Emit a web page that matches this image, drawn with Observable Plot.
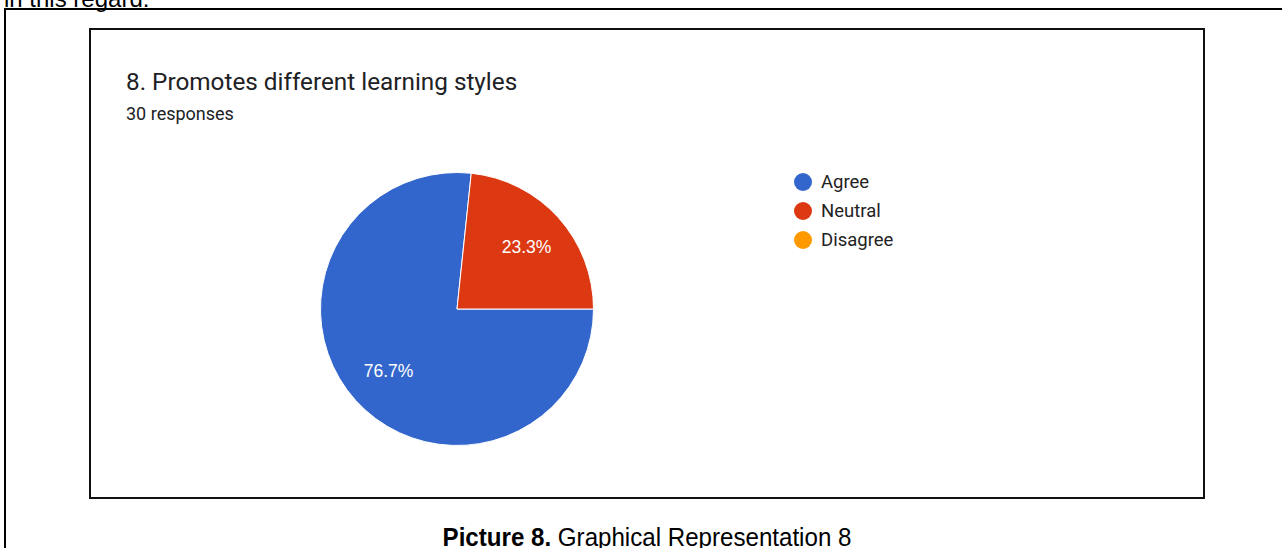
<!DOCTYPE html>
<html>
<head>
<meta charset="utf-8">
<script src="https://cdn.jsdelivr.net/npm/d3@7"></script>
<script src="https://cdn.jsdelivr.net/npm/@observablehq/plot@0.6"></script>
<style>
  html, body { margin: 0; padding: 0; background: #fff; overflow: hidden; }
  #page { position: relative; width: 1282px; height: 548px; overflow: hidden; background: #fff; }
  #chart { position: absolute; left: 0; top: 0; }
  #chart svg { background: transparent; }
  .abs { position: absolute; white-space: nowrap; }
  #lead { left: 4px; top: -13px; font: 24px "Liberation Sans", Arial, sans-serif; line-height: 24px; color: #000; }
  #outer { left: 4px; top: 8px; width: 1400px; height: 700px; border: 2px solid #000; box-sizing: border-box; }
  #inner { left: 89px; top: 28px; width: 1116px; height: 471px; border: 2px solid #111; box-sizing: border-box; }
  #title { left: 126px; top: 70px; font: 24.3px Roboto, Arial, sans-serif; line-height: 24px; color: #202124; }
  #subtitle { left: 126px; top: 105px; font: 18px Roboto, Arial, sans-serif; line-height: 18px; color: #202124; }
  #legend { left: 794px; top: 167px; font: 18.5px Roboto, Arial, sans-serif; color: #222; }
  .item { display: flex; align-items: center; height: 29px; }
  .sw { width: 18px; height: 18px; border-radius: 50%; margin-right: 9px; flex: none; }
  #caption { left: 0; width: 1294px; top: 524px; text-align: center; font: 26.5px "Liberation Sans", Arial, sans-serif; line-height: 27px; color: #000; transform: scaleX(0.91); transform-origin: 647px 0; }
  #caption b { font-weight: bold; }
</style>
</head>
<body>
<div id="page">
  <div id="chart"></div>
  <div class="abs" id="lead"></div>
  <div class="abs" id="outer"></div>
  <div class="abs" id="inner"></div>
  <div class="abs" id="title"></div>
  <div class="abs" id="subtitle"></div>
  <div class="abs" id="legend"></div>
  <div class="abs" id="caption"></div>
</div>
<script>
// ---- data ----
const categories = ["Agree", "Neutral", "Disagree"];
const counts = [23, 7, 0];
const colors = ["#3366cc", "#dc3912", "#ff9900"];
const titleText = "8. Promotes different learning styles";
const subtitleText = "30 responses";
const captionBold = "Picture 8.";
const captionText = "Graphical Representation 8";
const leadText = "in this regard.";

// ---- layout ----
const CX = 457, CY = 309, R = 136.5;
const LABEL_R = 0.68;

const total = d3.sum(counts);
const rows = categories.map((c, i) => ({category: c, count: counts[i], share: counts[i] / total, color: colors[i]}));
const arcs = d3.pie().sort(null).value(d => d.count)
  .startAngle(Math.PI / 2).endAngle(Math.PI / 2 + 2 * Math.PI)(rows)
  .filter(a => a.data.count > 0);
const labels = arcs.map(a => {
  const m = (a.startAngle + a.endAngle) / 2;
  return {x: LABEL_R * Math.sin(m), y: LABEL_R * Math.cos(m), text: d3.format(".1%")(a.data.share)};
});

function pieMark(index, scales) {
  const cx = scales.x(0), cy = scales.y(0);
  const r = Math.abs(scales.x(1) - scales.x(0));
  const arc = d3.arc().innerRadius(0).outerRadius(r);
  const g = d3.create("svg:g").attr("transform", `translate(${cx},${cy})`);
  g.selectAll("path").data(arcs).join("path")
    .attr("d", arc)
    .attr("fill", a => a.data.color)
    .attr("stroke", "#fff")
    .attr("stroke-width", 1);
  return g.node();
}

const plot = Plot.plot({
  width: 1282,
  height: 548,
  margin: 0,
  x: {domain: [-1, 1], range: [CX - R, CX + R], axis: null},
  y: {domain: [-1, 1], range: [CY + R, CY - R], axis: null},
  marks: [
    pieMark,
    Plot.text(labels, {x: "x", y: "y", text: "text", fill: "white", fontSize: 17.5, fontFamily: "Arial, 'Liberation Sans', sans-serif"})
  ]
});
document.getElementById("chart").appendChild(plot);

document.getElementById("lead").textContent = leadText;
document.getElementById("title").textContent = titleText;
document.getElementById("subtitle").textContent = subtitleText;
const cap = document.getElementById("caption");
const b = document.createElement("b"); b.textContent = captionBold;
cap.appendChild(b); cap.appendChild(document.createTextNode(" " + captionText));

const legend = document.getElementById("legend");
rows.forEach(r => {
  const it = document.createElement("div"); it.className = "item";
  const sw = document.createElement("span"); sw.className = "sw"; sw.style.background = r.color;
  const tx = document.createElement("span"); tx.textContent = r.category;
  it.appendChild(sw); it.appendChild(tx); legend.appendChild(it);
});
</script>
</body>
</html>
